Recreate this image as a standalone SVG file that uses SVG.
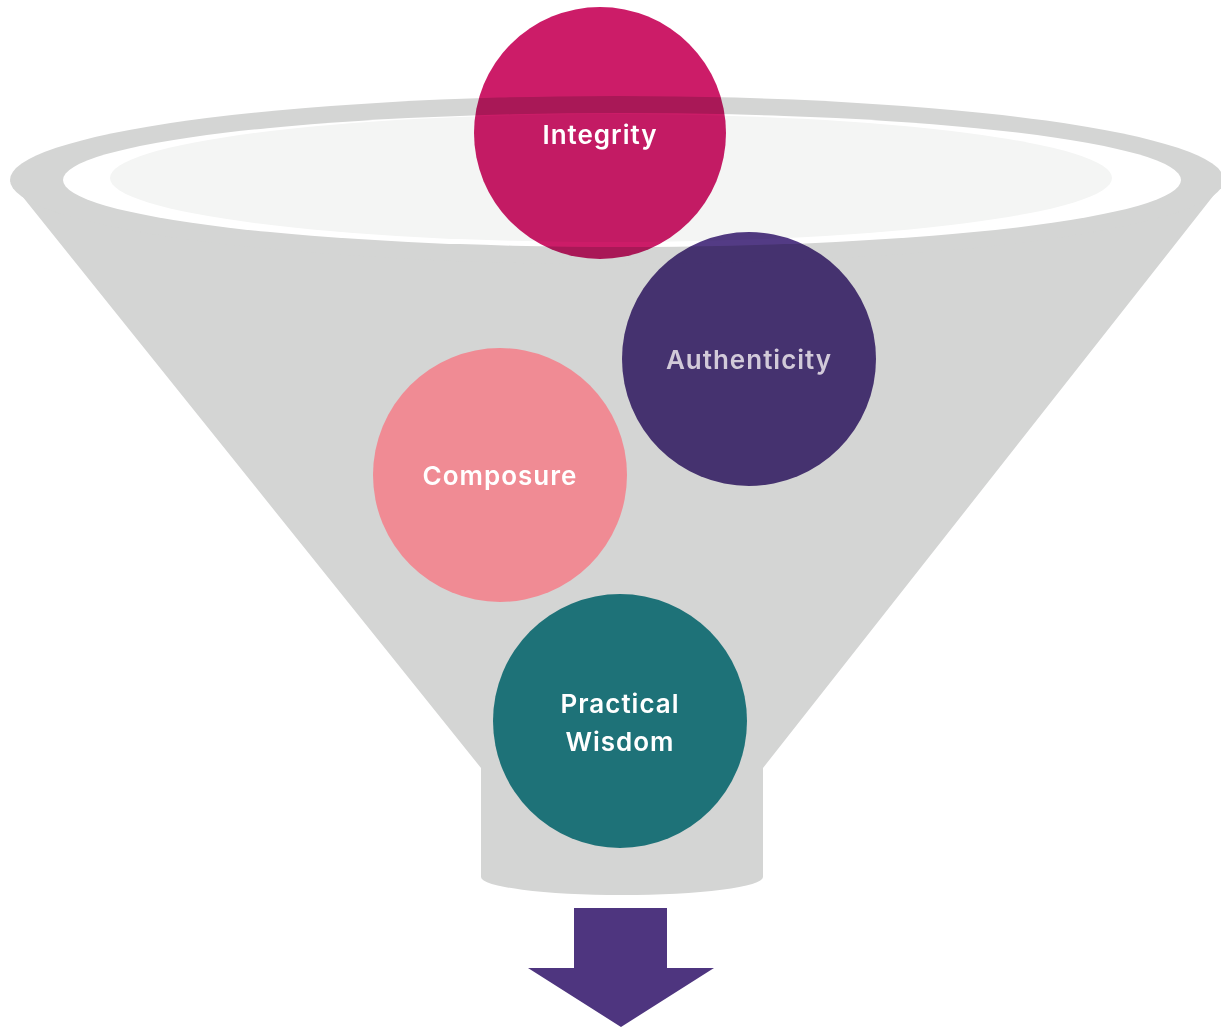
<svg xmlns="http://www.w3.org/2000/svg" width="1221" height="1030" viewBox="0 0 1221 1030">
<style>
.funnel{fill:#d4d5d4}
.lbl{font-family:Inter,"Open Sans","Liberation Sans",sans-serif;font-weight:600;font-size:26px;letter-spacing:1px;fill:#ffffff;text-anchor:middle}
.mul{mix-blend-mode:multiply}
</style>
<rect width="1221" height="1030" fill="#ffffff"/>
<g id="funnel">
<path class="funnel" d="M10,181 L481,768 L481,877 A141,18 0 0 0 763,877 L763,768 L1225,181 Z"/>
<ellipse class="funnel" cx="617" cy="180" rx="607" ry="84"/>
<ellipse cx="622" cy="180" rx="559" ry="67" fill="#ffffff"/>
<ellipse cx="611" cy="178" rx="501" ry="64" fill="#f4f5f4"/>
</g>
<g id="connectors">
<path id="arrow" d="M574,908 H667 V968 H714 L621,1027 L528,968 H574 Z" fill="#4e357f"/>
</g>
<g id="node-integrity">
<circle class="mul" cx="600" cy="133" r="126" fill="#cc1c68"/>
<text class="lbl" x="600" y="144">Integrity</text>
</g>
<g id="node-authenticity">
<circle class="mul" cx="749" cy="359" r="127" fill="#533b85"/>
<text class="lbl" x="749" y="369" style="fill:#d2cad9">Authenticity</text>
</g>
<g id="node-composure">
<circle cx="500" cy="475" r="127" fill="#f08b94"/>
<text class="lbl" x="500" y="485">Composure</text>
</g>
<g id="node-practical-wisdom">
<circle cx="620" cy="721" r="127" fill="#1e7278"/>
<text class="lbl" x="620" y="713">Practical</text>
<text class="lbl" x="620" y="751">Wisdom</text>
</g>
</svg>
